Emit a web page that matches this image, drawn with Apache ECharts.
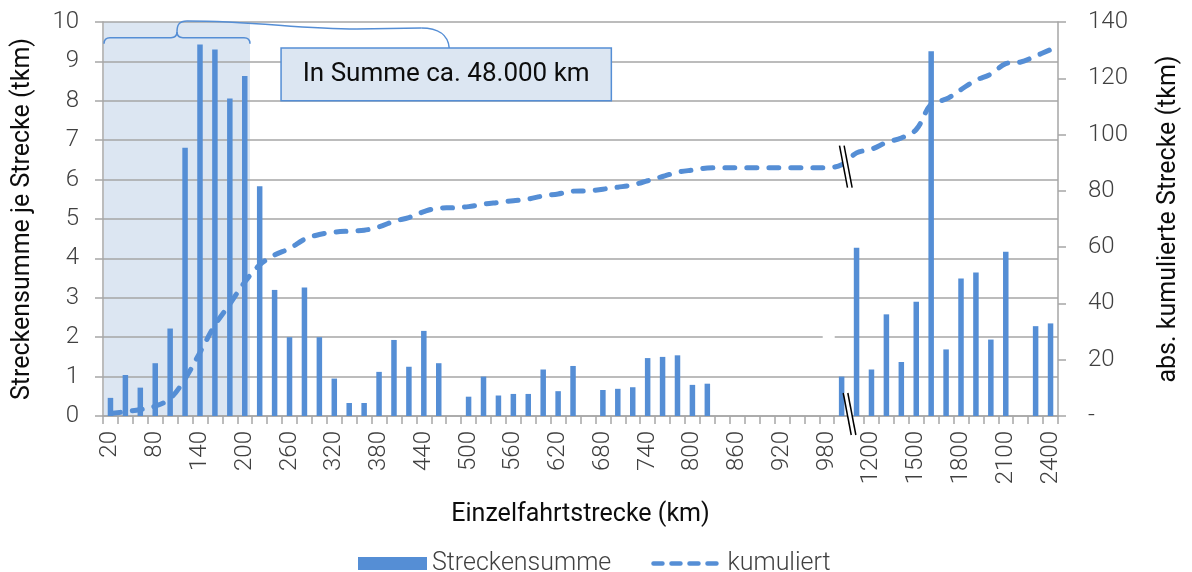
<!DOCTYPE html>
<html>
<head>
<meta charset="utf-8">
<script src="https://cdn.jsdelivr.net/npm/echarts@6/dist/echarts.min.js"></script>
<style>
  html, body { margin: 0; padding: 0; background: #fff; }
  #chart { width: 1192px; height: 572px; }
</style>
</head>
<body>
<div id="chart"></div>
<script>
// Einzelfahrtstrecke (km) - Kategorien
const categories = [
  '20', '40', '60', '80', '100', '120', '140', '160', '180', '200',
  '220', '240', '260', '280', '300', '320', '340', '360', '380', '400',
  '420', '440', '460', '480', '500', '520', '540', '560', '580', '600',
  '620', '640', '660', '680', '700', '720', '740', '760', '780', '800',
  '820', '840', '860', '880', '900', '920', '940', '960', '980',
  '1000', '1100', '1200', '1300', '1400', '1500', '1600', '1700', '1800',
  '1900', '2000', '2100', '2200', '2300', '2400'
];

// Streckensumme je Strecke (tkm)
const streckensumme = [
  0.46, 1.04, 0.72, 1.34, 2.22, 6.81, 9.43, 9.30, 8.06, 8.63,
  5.83, 3.20, 2.00, 3.26, 2.00, 0.95, 0.33, 0.33, 1.12, 1.93,
  1.25, 2.16, 1.34, 0, 0.49, 1.00, 0.52, 0.56, 0.56, 1.18,
  0.63, 1.27, 0, 0.66, 0.69, 0.73, 1.47, 1.50, 1.54, 0.79,
  0.82, 0, 0, 0, 0, 0, 0, 0, 0,
  1.00, 4.27, 1.18, 2.58, 1.37, 2.90, 9.26, 1.69, 3.49,
  3.64, 1.94, 4.17, 0, 2.28, 2.35
];

// abs. kumulierte Strecke (tkm)
const kumuliert = [
  0.9, 1.5, 2.3, 3.5, 6.2, 13.2, 22.6, 32.3, 39.8, 47.6,
  53.7, 57.2, 59.5, 62.8, 64.5, 65.3, 65.7, 66.0, 67.2, 69.2,
  70.5, 72.6, 73.9, 74.0, 74.4, 75.3, 75.9, 76.5, 77.1, 78.2,
  78.9, 79.9, 80.0, 80.6, 81.3, 82.1, 83.6, 85.1, 86.6, 87.4,
  88.1, 88.2, 88.2, 88.2, 88.2, 88.2, 88.2, 88.2, 88.2,
  89.3, 93.5, 94.8, 97.2, 98.8, 101.8, 110.8, 112.6, 116.0,
  119.3, 121.5, 125.2, 125.8, 127.9, 130.2
];

const leftTicks = { min: 0, max: 10, interval: 1 };
const rightTicks = { min: 0, max: 140, interval: 20 };

const blue = '#558ed5';
const gridGray = '#a6a6a6';
const font = 'Roboto, "Noto Sans", sans-serif';

const chart = echarts.init(document.getElementById('chart'));

const option = {
  animation: false,
  backgroundColor: '#fff',
  grid: { left: 103, right: 134, top: 22, bottom: 156 },
  legend: {
    left: 353,
    top: 546,
    itemWidth: 69,
    itemHeight: 13,
    itemGap: 40,
    textStyle: { fontFamily: font, fontSize: 25, fontWeight: 300, color: '#404040' },
    data: [
      { name: 'Streckensumme', icon: 'rect' },
      {
        name: 'kumuliert',
        itemStyle: { color: 'rgba(0,0,0,0)', borderWidth: 0 },
        lineStyle: { width: 4.5, type: [9, 9], cap: 'round' }
      }
    ]
  },
  xAxis: {
    type: 'category',
    data: categories,
    name: 'Einzelfahrtstrecke (km)',
    nameLocation: 'middle',
    nameGap: 86,
    nameTextStyle: { fontFamily: font, fontSize: 25, color: '#0d0d0d' },
    axisLine: { lineStyle: { color: gridGray, width: 1.5 } },
    axisTick: { show: true, interval: 0, length: 8, lineStyle: { color: gridGray, width: 1.5 } },
    axisLabel: {
      interval: 2,
      rotate: 90,
      margin: 15,
      fontFamily: font,
      fontSize: 24,
      fontWeight: 300,
      color: '#404040'
    }
  },
  yAxis: [
    {
      type: 'value',
      min: leftTicks.min,
      max: leftTicks.max,
      interval: leftTicks.interval,
      name: 'Streckensumme je Strecke (tkm)',
      nameLocation: 'middle',
      nameGap: 68,
      nameTextStyle: { fontFamily: font, fontSize: 25, color: '#0d0d0d' },
      axisLine: { show: true, lineStyle: { color: gridGray, width: 1.5 } },
      axisTick: { show: true, length: 8, lineStyle: { color: gridGray, width: 1.5 } },
      axisLabel: { margin: 24, fontFamily: font, fontSize: 24, fontWeight: 300, color: '#404040' },
      splitLine: { lineStyle: { color: gridGray, width: 1.5 } }
    },
    {
      type: 'value',
      min: rightTicks.min,
      max: rightTicks.max,
      interval: rightTicks.interval,
      position: 'right',
      name: 'abs. kumulierte Strecke (tkm)',
      nameLocation: 'middle',
      nameRotate: 90,
      nameGap: 98,
      nameTextStyle: { fontFamily: font, fontSize: 25, color: '#0d0d0d' },
      axisLine: { show: true, lineStyle: { color: gridGray, width: 1.5 } },
      axisTick: { show: true, length: 8, lineStyle: { color: gridGray, width: 1.5 } },
      axisLabel: {
        margin: 30,
        fontFamily: font,
        fontSize: 24,
        fontWeight: 300,
        color: '#404040',
        formatter: v => (v === 0 ? '-' : String(v))
      },
      splitLine: { show: false }
    }
  ],
  series: [
    {
      name: 'Streckensumme',
      type: 'bar',
      data: streckensumme,
      barWidth: 5.5,
      itemStyle: { color: blue },
      z: 2
    },
    {
      name: 'kumuliert',
      type: 'line',
      yAxisIndex: 1,
      data: kumuliert,
      smooth: 0.35,
      showSymbol: false,
      symbol: 'none',
      itemStyle: { color: blue },
      lineStyle: { color: blue, width: 5, type: [10, 12], cap: 'round' },
      z: 3
    }
  ]
};

chart.setOption(option);

// Anmerkungen (Hinterlegung, Klammern, Textbox, Achsenbruch)
const px = (i, v) => chart.convertToPixel({ seriesIndex: 0 }, [i, v]);
const pr = (i, v) => chart.convertToPixel({ seriesIndex: 1 }, [i, v]);
const bw = px(1, 0)[0] - px(0, 0)[0];
const plotLeft = px(0, 0)[0] - bw / 2;
const yTop = px(0, 10)[1];
const yZero = px(0, 0)[1];
const shadeRight = px(9, 0)[0] + bw * 0.35;

const braceStyle = { stroke: blue, lineWidth: 1.5, fill: null };
function seg(x1, y1, x2, y2) {
  return { type: 'line', z: 40, shape: { x1, y1, x2, y2 }, style: braceStyle };
}
function bz(x1, y1, cpx1, cpy1, x2, y2, cpx2, cpy2) {
  const shape = { x1, y1, x2, y2, cpx1, cpy1 };
  if (cpx2 !== undefined) { shape.cpx2 = cpx2; shape.cpy2 = cpy2; }
  return { type: 'bezierCurve', z: 40, shape, style: braceStyle };
}

// Klammer 1 über 20-200 km
const bx0 = plotLeft + 1, bx1 = shadeRight;
const bxm = (bx0 + bx1) / 2;
const yEnd = px(0, 9.45)[1], yH = px(0, 9.6)[1], yTip = px(0, 9.75)[1];
const brace1 = [
  bz(bx0, yEnd, bx0, yH, bx0 + 6, yH),
  seg(bx0 + 6, yH, bxm - 6, yH),
  bz(bxm - 6, yH, bxm, yH, bxm, yTip),
  bz(bxm, yTip, bxm, yH, bxm + 6, yH),
  seg(bxm + 6, yH, bx1 - 6, yH),
  bz(bx1 - 6, yH, bx1, yH, bx1, yEnd)
];

// Textbox
const boxL = px(12, 0)[0] - bw / 2 - 1;
const boxR = px(34, 0)[0] - bw / 2 + 1;
const boxT = px(0, 9.34)[1];
const boxB = px(0, 8.0)[1];
const boxC = (boxL + boxR) / 2;

// Klammer 2 zur Textbox
const yT2 = yTop - 1;
const brace2 = [
  bz(bxm, yTip, bxm, yT2 + 4, bxm + 10, yT2, bxm + 2, yT2),
  bz(bxm + 10, yT2, bxm + 80, yT2, bxm + 180, yT2 + 8, bxm + 120, yT2 + 8),
  seg(bxm + 180, yT2 + 8, boxC - 25, yT2 + 7),
  bz(boxC - 25, yT2 + 7, boxC - 8, yT2 + 7, boxC + 3, boxT, boxC + 2, yT2 + 14)
];

// Achsenbruch
const brk1x = px(49, 0)[0] + bw * 0.28;
const brk1y = pr(49, 88.6)[1];
const brk2x = px(49, 0)[0] + bw * 0.53;
const brk2y = yZero - 2;
function breakMark(cx, cy) {
  const h = 21, s = 4, d = 2.3;
  return [
    {
      type: 'polygon', z: 50,
      shape: { points: [[cx - s - d, cy - h], [cx - s + d, cy - h], [cx + s + d, cy + h], [cx + s - d, cy + h]] },
      style: { fill: '#fff' }
    },
    {
      type: 'line', z: 51,
      shape: { x1: cx - s - d, y1: cy - h, x2: cx + s - d, y2: cy + h },
      style: { stroke: '#000', lineWidth: 1.5 }
    },
    {
      type: 'line', z: 51,
      shape: { x1: cx - s + d, y1: cy - h, x2: cx + s + d, y2: cy + h },
      style: { stroke: '#000', lineWidth: 1.5 }
    }
  ];
}

chart.setOption({
  graphic: [
    {
      type: 'rect', z: -1, silent: true,
      shape: { x: plotLeft + 1, y: yTop, width: shadeRight - plotLeft - 1, height: yZero - yTop },
      style: { fill: '#dce6f2' }
    },
    ...brace1,
    ...brace2,
    {
      type: 'rect', z: 41,
      shape: { x: boxL, y: boxT, width: boxR - boxL, height: boxB - boxT },
      style: { fill: '#dce6f2', stroke: blue, lineWidth: 1.5 }
    },
    {
      type: 'text', z: 42,
      x: boxC, y: (boxT + boxB) / 2,
      style: {
        text: 'In Summe ca. 48.000 km',
        fontFamily: font, fontSize: 26, fill: '#0d0d0d',
        align: 'center', verticalAlign: 'middle'
      }
    },
    {
      type: 'rect', z: 45,
      shape: { x: px(48, 0)[0] - 4, y: px(0, 2)[1] - 9, width: 12, height: 18 },
      style: { fill: '#fff' }
    },
    ...breakMark(brk1x, brk1y),
    ...breakMark(brk2x, brk2y)
  ]
});
</script>
</body>
</html>
